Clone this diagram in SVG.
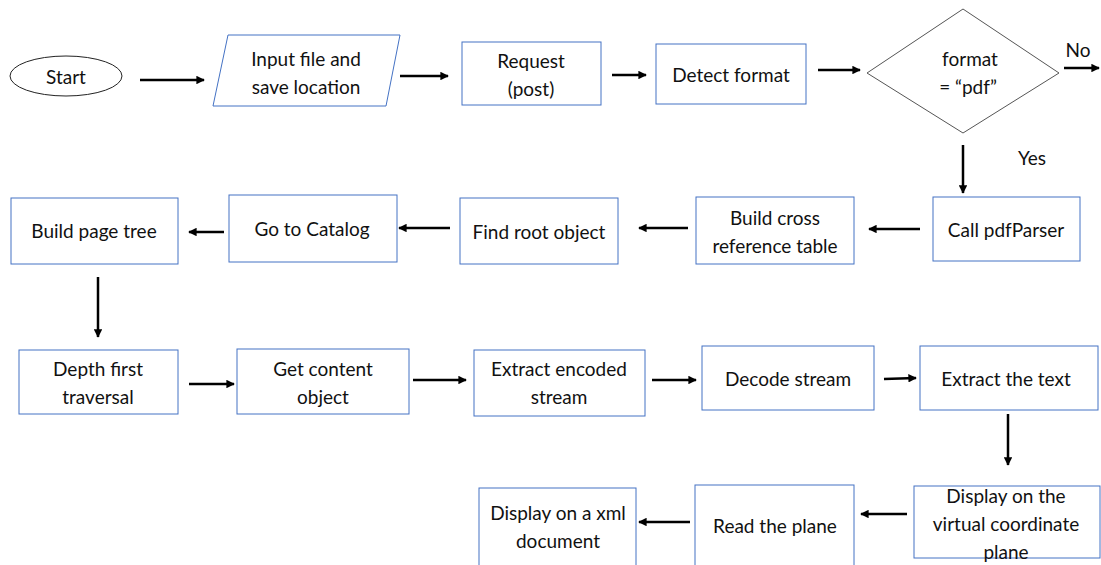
<svg xmlns="http://www.w3.org/2000/svg" width="1101" height="565" viewBox="0 0 1101 565">
  <style>
    .box { fill: #ffffff; stroke: #4472c4; stroke-width: 1; }
    .term { fill: #ffffff; stroke: #222222; stroke-width: 1; }
    .dec { fill: #ffffff; stroke: #555555; stroke-width: 1; }
    text { font-family: "Lato", "Liberation Sans", sans-serif; font-size: 19px; fill: #111111; text-anchor: middle; dominant-baseline: central; }
    .edge { stroke: #000000; stroke-width: 2.5; fill: none; marker-end: url(#arrow); }
  </style>
  <defs>
    <marker id="arrow" viewBox="0 0 10 10" refX="9" refY="5" markerWidth="3.4" markerHeight="3.4" orient="auto" markerUnits="strokeWidth">
      <path d="M0,0 L10,5 L0,10 z" fill="#000000"/>
    </marker>
  </defs>
  <rect width="1101" height="565" fill="#ffffff"/>

  <g id="start"><ellipse class="term" cx="66" cy="76" rx="56" ry="20"/><text x="66" y="76">Start</text></g>
  <g id="input"><polygon class="box" points="228,35 400,35 386,106 213,106"/><text x="306" y="58">Input file and</text><text x="306" y="86">save location</text></g>
  <g id="request"><rect class="box" x="462" y="42" width="139" height="63"/><text x="531" y="60">Request</text><text x="531" y="88">(post)</text></g>
  <g id="detect"><rect class="box" x="656" y="44" width="150" height="60"/><text x="731" y="74">Detect format</text></g>
  <g id="decision"><polygon class="dec" points="867,73 963,9 1059,73 963,133"/><text x="970" y="58">format</text><text x="968" y="86">= “pdf”</text></g>
  <g id="call-parser"><rect class="box" x="933" y="197" width="147" height="64"/><text x="1006" y="229">Call pdfParser</text></g>
  <g id="xref"><rect class="box" x="696" y="197" width="158" height="67"/><text x="775" y="217">Build cross</text><text x="775" y="245">reference table</text></g>
  <g id="find-root"><rect class="box" x="460" y="198" width="158" height="66"/><text x="539" y="231">Find root object</text></g>
  <g id="catalog"><rect class="box" x="229" y="195" width="168" height="67"/><text x="312" y="228">Go to Catalog</text></g>
  <g id="page-tree"><rect class="box" x="11" y="198" width="167" height="66"/><text x="94" y="230">Build page tree</text></g>
  <g id="dfs"><rect class="box" x="19" y="350" width="159" height="64"/><text x="98" y="368">Depth first</text><text x="98" y="396">traversal</text></g>
  <g id="content"><rect class="box" x="237" y="349" width="172" height="65"/><text x="323" y="368">Get content</text><text x="323" y="396">object</text></g>
  <g id="encoded"><rect class="box" x="474" y="350" width="171" height="66"/><text x="559" y="368">Extract encoded</text><text x="559" y="396">stream</text></g>
  <g id="decode"><rect class="box" x="702" y="346" width="172" height="64"/><text x="788" y="378">Decode stream</text></g>
  <g id="extract-text"><rect class="box" x="920" y="346" width="178" height="64"/><text x="1006" y="378">Extract the text</text></g>
  <g id="virtual-plane"><rect class="box" x="914" y="486" width="186" height="72"/><text x="1006" y="495">Display on the</text><text x="1006" y="523">virtual coordinate</text><text x="1006" y="551">plane</text></g>
  <g id="read-plane"><rect class="box" x="695" y="485" width="159" height="85"/><text x="775" y="525">Read the plane</text></g>
  <g id="xml-doc"><rect class="box" x="479" y="488" width="157" height="85"/><text x="558" y="512">Display on a xml</text><text x="558" y="540">document</text></g>

  <g id="connectors">
    <line class="edge" x1="140" y1="80" x2="204" y2="80"/>
    <line class="edge" x1="400" y1="76" x2="448" y2="76"/>
    <line class="edge" x1="612" y1="75" x2="646" y2="75"/>
    <line class="edge" x1="818" y1="70" x2="860" y2="70"/>
    <line class="edge" x1="1064" y1="68" x2="1099" y2="68"/>
    <line class="edge" x1="963" y1="145" x2="963" y2="193"/>
    <line class="edge" x1="920" y1="229" x2="869" y2="229"/>
    <line class="edge" x1="688" y1="228" x2="639" y2="228"/>
    <line class="edge" x1="450" y1="228" x2="399" y2="228"/>
    <line class="edge" x1="224" y1="232" x2="189" y2="232"/>
    <line class="edge" x1="98" y1="277" x2="98" y2="337"/>
    <line class="edge" x1="189" y1="384" x2="234" y2="384"/>
    <line class="edge" x1="413" y1="380" x2="466" y2="380"/>
    <line class="edge" x1="652" y1="380" x2="696" y2="380"/>
    <line class="edge" x1="884" y1="379" x2="916" y2="378"/>
    <line class="edge" x1="1008" y1="414" x2="1008" y2="465"/>
    <line class="edge" x1="907" y1="514" x2="861" y2="514"/>
    <line class="edge" x1="690" y1="522" x2="639" y2="522"/>
    <text x="1078" y="49">No</text>
    <text x="1032" y="157">Yes</text>
  </g>
</svg>
